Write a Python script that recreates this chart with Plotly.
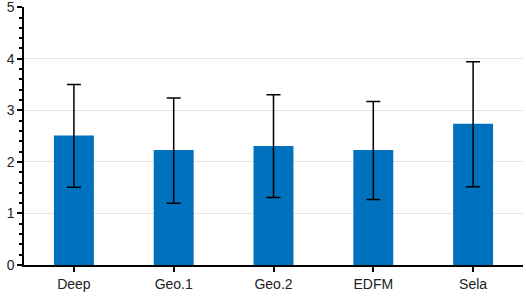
import plotly.graph_objects as go

categories = ["Deep", "Geo.1", "Geo.2", "EDFM", "Sela"]
means = [2.51, 2.23, 2.31, 2.23, 2.74]
err_plus = [0.99, 1.01, 0.99, 0.94, 1.20]
err_minus = [1.00, 1.03, 1.00, 0.96, 1.22]

fig = go.Figure(go.Bar(
    x=categories, y=means,
    marker=dict(color="#0072BD", line=dict(width=0)),
    error_y=dict(type="data", symmetric=False, array=err_plus, arrayminus=err_minus,
                 color="black", thickness=1.5, width=7),
))

fig.update_layout(
    width=526, height=299,
    margin=dict(l=24, r=3, t=7, b=34, autoexpand=False),
    plot_bgcolor="white", paper_bgcolor="white",
    bargap=0.6,
    showlegend=False,
    font=dict(family="Liberation Sans, Arial, sans-serif", size=14, color="#222"),
)
fig.update_xaxes(
    showline=True, linecolor="black", linewidth=1.5,
    ticks="outside", ticklen=5, tickwidth=1.5, tickcolor="black",
    showgrid=False, automargin=False,
)
fig.update_yaxes(
    range=[0, 5.004], tickvals=[0, 1, 2, 3, 4, 5],
    showline=True, linecolor="black", linewidth=1.5,
    ticks="outside", ticklen=5, tickwidth=1.5, tickcolor="black",
    minor=dict(dtick=0.2, ticks="outside", ticklen=3, tickcolor="black", showgrid=False),
    showgrid=True, gridcolor="#e3e3e3", gridwidth=1,
    zeroline=False, automargin=False, ticklabeloverflow="allow",
)
fig.write_html("out.html", config={"displayModeBar": False},
               post_script="document.body.style.margin='0';document.body.style.overflow='hidden';")
